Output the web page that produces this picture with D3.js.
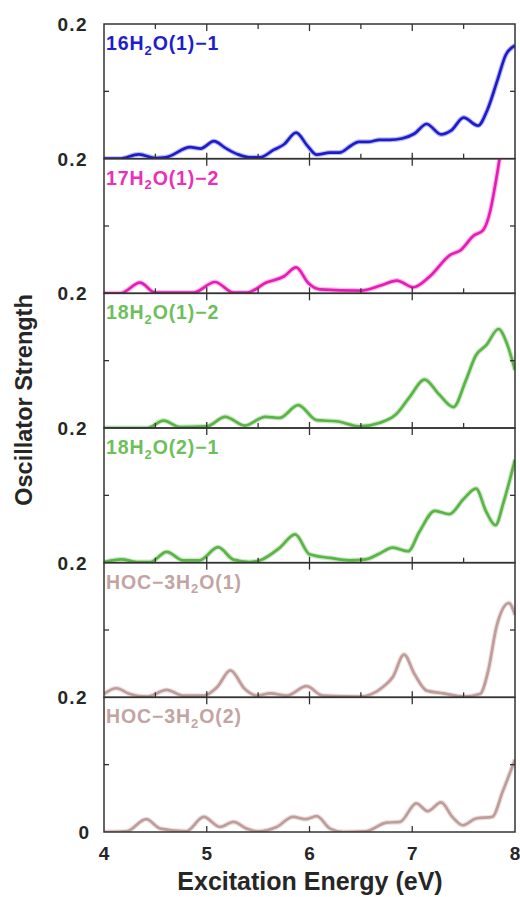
<!DOCTYPE html>
<html>
<head>
<meta charset="utf-8">
<script src="https://cdn.jsdelivr.net/npm/d3@7"></script>
<style>
  html, body { margin: 0; padding: 0; background: #fff; }
  svg { display: block; }
  text { font-family: "Liberation Sans", Arial, Helvetica, sans-serif; font-weight: bold; }
</style>
</head>
<body>
<svg id="chart" width="520" height="897"></svg>
<script>
// Excitation energies (eV) and oscillator strengths for each stacked spectrum
const e16_1 = [4.0, 4.15, 4.34, 4.5, 4.6, 4.84, 4.94, 5.07, 5.18, 5.31, 5.42, 5.52, 5.65, 5.75, 5.87, 5.98, 6.07, 6.2, 6.29, 6.41, 6.48, 6.58, 6.68, 6.78, 6.9, 7.02, 7.14, 7.28, 7.38, 7.5, 7.64, 7.73, 7.83, 7.91, 8.0];
const f16_1 = [0, 0, 0.0064, 0.001, 0.002, 0.017, 0.015, 0.026, 0.016, 0.006, 0.002, 0.002, 0.013, 0.021, 0.0386, 0.019, 0.006, 0.009, 0.009, 0.02, 0.025, 0.025, 0.028, 0.028, 0.03, 0.037, 0.0515, 0.036, 0.042, 0.061, 0.049, 0.072, 0.117, 0.154, 0.168];

const e17_2 = [4.0, 4.16, 4.35, 4.5, 4.87, 5.08, 5.26, 5.39, 5.58, 5.75, 5.87, 5.99, 6.1, 6.5, 6.7, 6.85, 7.01, 7.17, 7.37, 7.47, 7.6, 7.69, 7.76, 7.81, 7.85, 7.9, 8.0];
const f17_2 = [0, 0, 0.0158, 0.001, 0.001, 0.0168, 0.001, 0.001, 0.016, 0.025, 0.0385, 0.015, 0.006, 0.004, 0.012, 0.019, 0.009, 0.025, 0.057, 0.064, 0.086, 0.094, 0.123, 0.163, 0.2, 0.25, 0.32];

const e18_12 = [4.0, 4.42, 4.58, 4.74, 5.0, 5.18, 5.37, 5.57, 5.71, 5.89, 6.07, 6.26, 6.49, 6.68, 6.84, 6.97, 7.12, 7.26, 7.4, 7.52, 7.62, 7.72, 7.84, 7.92, 8.0];
const f18_12 = [0, 0, 0.011, 0.0015, 0.0025, 0.0166, 0.0035, 0.0166, 0.015, 0.034, 0.0116, 0.01, 0.0025, 0.0075, 0.02, 0.045, 0.0719, 0.05, 0.031, 0.07, 0.108, 0.123, 0.147, 0.126, 0.086];

const e18_21 = [4.0, 4.17, 4.32, 4.45, 4.61, 4.77, 4.93, 5.11, 5.26, 5.42, 5.52, 5.71, 5.86, 6.0, 6.2, 6.39, 6.55, 6.68, 6.81, 6.96, 7.07, 7.22, 7.36, 7.5, 7.62, 7.72, 7.81, 7.89, 8.0];
const f18_21 = [0.001, 0.005, 0.001, 0.001, 0.016, 0.0035, 0.0035, 0.023, 0.0045, 0.001, 0.0035, 0.022, 0.042, 0.0124, 0.007, 0.0035, 0.005, 0.0134, 0.0224, 0.017, 0.046, 0.077, 0.072, 0.0945, 0.11, 0.0756, 0.0557, 0.0905, 0.153];

const eHOC1 = [4.0, 4.12, 4.25, 4.42, 4.61, 4.77, 4.97, 5.1, 5.23, 5.37, 5.49, 5.62, 5.78, 5.97, 6.13, 6.49, 6.72, 6.81, 6.92, 7.02, 7.14, 7.3, 7.5, 7.66, 7.74, 7.82, 7.94, 8.0];
const fHOC1 = [0.005, 0.0135, 0.005, 0.001, 0.011, 0.0025, 0.0025, 0.015, 0.04, 0.0125, 0.0025, 0.006, 0.0025, 0.0165, 0.0025, 0.001, 0.016, 0.03, 0.0635, 0.035, 0.01, 0.006, 0.001, 0.005, 0.04, 0.105, 0.14, 0.1225];

const eHOC2 = [4.0, 4.22, 4.41, 4.55, 4.8, 4.97, 5.13, 5.26, 5.39, 5.49, 5.68, 5.84, 5.96, 6.07, 6.2, 6.33, 6.55, 6.75, 6.88, 7.04, 7.15, 7.28, 7.39, 7.49, 7.62, 7.78, 7.88, 8.0];
const fHOC2 = [0, 0.001, 0.019, 0.005, 0.001, 0.0225, 0.0075, 0.015, 0.005, 0.001, 0.0075, 0.0225, 0.019, 0.0235, 0.005, 0, 0.001, 0.014, 0.015, 0.0425, 0.031, 0.044, 0.0225, 0.01, 0.02, 0.0225, 0.06, 0.1075];

// Panel order, top to bottom
const panelPrefix = ["16H", "17H", "18H", "18H", "HOC\u22123H", "HOC\u22123H"];
const panelSuffix = ["O(1)\u22121", "O(1)\u22122", "O(1)\u22122", "O(2)\u22121", "O(1)", "O(2)"];
const panelEnergy = [e16_1, e17_2, e18_12, e18_21, eHOC1, eHOC2];
const panelStrength = [f16_1, f17_2, f18_12, f18_21, fHOC1, fHOC2];
const panelColors = ["#1e1ecc", "#e61eb4", "#5ab446", "#5ab446", "#c09c9a", "#c09c9a"];
const labelColors = ["#1e1ecc", "#e830b8", "#6cc05a", "#6cc05a", "#c4a4a2", "#c4a4a2"];

const xTickValues = [4, 5, 6, 7, 8];
const xMinorTicks = [4.5, 5, 5.5, 6, 6.5, 7, 7.5];
const yTickLabelTop = "0.2";
const yTickLabelBottom = "0";
const xAxisTitle = "Excitation Energy (eV)";
const yAxisTitle = "Oscillator Strength";

const svg = d3.select("#chart");
const plotLeft = 104, plotRight = 515, plotTop = 24, plotBottom = 832;
const nPanels = panelPrefix.length;
const ph = (plotBottom - plotTop) / nPanels;
const axisColor = "#333";
const textColor = "#262626";

const x = d3.scaleLinear().domain([4, 8]).range([plotLeft, plotRight]);

const defs = svg.append("defs");
const soft = defs.append("filter").attr("id", "soft")
  .attr("x", "-5%").attr("y", "-20%").attr("width", "110%").attr("height", "140%");
soft.append("feGaussianBlur").attr("stdDeviation", 0.6);

panelPrefix.forEach((_, i) => {
  const pTop = plotTop + i * ph;
  const pBot = pTop + ph;
  const y = d3.scaleLinear().domain([0, 0.2]).range([pBot, pTop]);
  const g = svg.append("g").attr("class", "panel");

  defs.append("clipPath").attr("id", "clip" + i)
    .append("rect").attr("x", plotLeft).attr("y", pTop)
    .attr("width", plotRight - plotLeft).attr("height", ph);

  const pts = panelEnergy[i].map((e, k) => [e, panelStrength[i][k]]);
  const line = d3.line().x(d => x(d[0])).y(d => y(d[1])).curve(d3.curveMonotoneX);

  const lg = g.append("g").attr("clip-path", `url(#clip${i})`);
  lg.append("path").datum(pts).attr("d", line)
    .attr("fill", "none").attr("stroke", panelColors[i]).attr("stroke-opacity", 0.3)
    .attr("stroke-width", 5).attr("stroke-linejoin", "round");
  lg.append("path").datum(pts).attr("d", line)
    .attr("fill", "none").attr("stroke", panelColors[i])
    .attr("stroke-width", 2.7).attr("stroke-linejoin", "round")
    .attr("filter", "url(#soft)");

  // Frame
  g.append("rect").attr("x", plotLeft).attr("y", pTop)
    .attr("width", plotRight - plotLeft).attr("height", ph)
    .attr("fill", "none").attr("stroke", axisColor).attr("stroke-width", 1.5);

  // Energy ticks along the top edge (pointing down) and bottom edge (pointing up)
  const topTicks = i === 0 ? xMinorTicks : xMinorTicks.filter(v => Number.isInteger(v));
  const botTicks = i === nPanels - 1 ? xMinorTicks.filter(v => Number.isInteger(v)) : xMinorTicks;
  g.append("g").selectAll("line").data(topTicks).join("line")
    .attr("x1", d => x(d)).attr("x2", d => x(d))
    .attr("y1", pTop).attr("y2", d => pTop + (Number.isInteger(d) ? 7 : 5))
    .attr("stroke", axisColor).attr("stroke-width", 1.3);
  g.append("g").selectAll("line").data(botTicks).join("line")
    .attr("x1", d => x(d)).attr("x2", d => x(d))
    .attr("y1", pBot).attr("y2", d => pBot - (Number.isInteger(d) ? 6 : 5))
    .attr("stroke", axisColor).attr("stroke-width", 1.3);

  // Mid-scale ticks on both sides
  [[plotLeft, 5], [plotRight, -5]].forEach(([xx, dx]) => {
    g.append("line").attr("x1", xx).attr("x2", xx + dx)
      .attr("y1", y(0.1)).attr("y2", y(0.1))
      .attr("stroke", axisColor).attr("stroke-width", 1.3);
  });

  // Strength tick label at top of each panel
  g.append("text").attr("x", 88).attr("y", y(0.2)).attr("dy", "0.36em")
    .attr("text-anchor", "end").attr("font-size", 19).attr("letter-spacing", 1.4)
    .attr("fill", textColor).text(yTickLabelTop);
  if (i === nPanels - 1) {
    g.append("text").attr("x", 89).attr("y", y(0)).attr("dy", "0.36em")
      .attr("text-anchor", "end").attr("font-size", 19)
      .attr("fill", textColor).text(yTickLabelBottom);
  }

  // Panel label with subscripted 2
  const t = g.append("text").attr("x", plotLeft + 2).attr("y", pTop + 26)
    .attr("font-size", 19.5).attr("letter-spacing", 0.9).attr("fill", labelColors[i]);
  t.append("tspan").text(panelPrefix[i]);
  t.append("tspan").attr("dy", 4.5).attr("font-size", 13).text("2");
  t.append("tspan").attr("dy", -4.5).text(panelSuffix[i]);
});

// Energy tick labels
svg.append("g").selectAll("text").data(xTickValues).join("text")
  .attr("x", d => x(d)).attr("y", 860)
  .attr("text-anchor", "middle").attr("font-size", 19).attr("fill", textColor)
  .text(d => d);

// Axis titles
svg.append("text").attr("x", 310).attr("y", 890)
  .attr("text-anchor", "middle").attr("font-size", 25).attr("fill", textColor)
  .text(xAxisTitle);
svg.append("text").attr("transform", "translate(32, 400) rotate(-90)")
  .attr("text-anchor", "middle").attr("font-size", 23.5).attr("fill", textColor)
  .text(yAxisTitle);
</script>
</body>
</html>
